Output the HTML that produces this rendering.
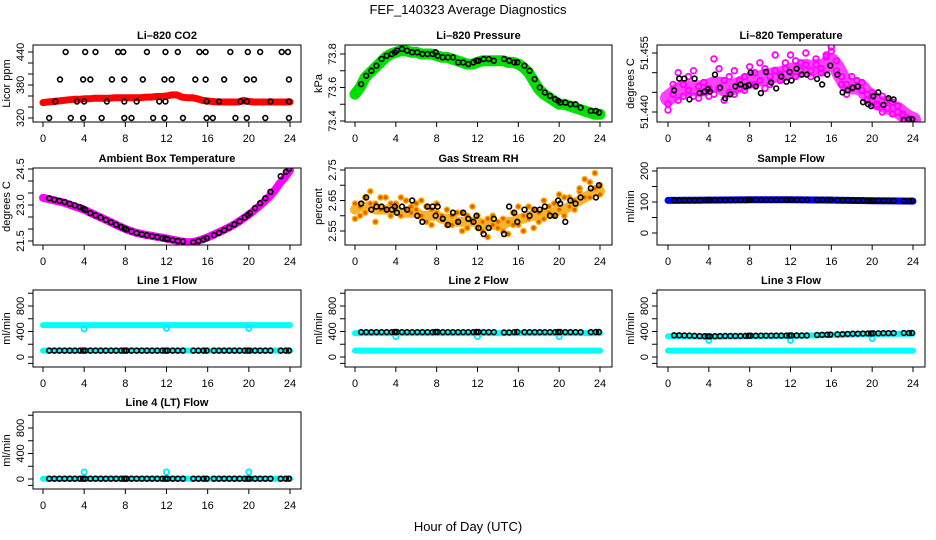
<!DOCTYPE html>
<html><head><meta charset="utf-8"><title>FEF_140323 Average Diagnostics</title>
<style>
html,body{margin:0;padding:0;background:#fff;}
svg{display:block;font-family:"Liberation Sans",sans-serif;}
</style></head>
<body>
<svg id="chart" width="936" height="540" viewBox="0 0 936 540">
<text x="468" y="14" text-anchor="middle" font-size="13">FEF_140323  Average Diagnostics</text>
<text x="468" y="531" text-anchor="middle" font-size="13">Hour of Day (UTC)</text>
</svg>
<script>
// ---------- data ----------
const xTicks = [0,4,8,12,16,20,24];
const bandHours = [0,0.5,1,1.5,2,2.5,3,3.5,4,4.5,5,5.5,6,6.5,7,7.5,8,8.5,9,9.5,10,10.5,11,11.5,12,12.5,13,13.5,14,14.5,15,15.5,16,16.5,17,17.5,18,18.5,19,19.5,20,20.5,21,21.5,22,22.5,23,23.5,24];
const hrs = [0.6,1.1,1.6,2.1,2.6,3.1,3.6,3.9,4.1,4.6,5.1,5.6,6.1,6.6,7.1,7.6,7.9,8.1,8.6,9.1,9.6,10.1,10.6,11.1,11.6,11.9,12.1,12.6,13.1,13.6,14.6,15.1,15.6,15.9,16.6,17.1,17.6,18.1,18.6,19.1,19.6,19.9,20.1,20.6,21.1,21.6,22.1,23.1,23.6,23.9];

const co2Band = [348,349,350,351,352,353,354,354,355,355,356,356,356,356,357,357,357,357,357,357,358,358,359,359,360,362,362,358,357,357,355,352,351,350,349,349,349,349,349,352,350,349,349,349,349,349,349,349,349];
const co2Hours = [2.2,4.1,5.1,7.3,7.8,10.1,11.9,13.1,15.2,15.8,18.2,19.9,21.1,23.2,23.8, 1.65,3.9,4.6,6.7,7.9,9.7,11.8,12.5,14.8,15.8,17.6,19.8,20.5,23.9, 1.2,3.3,4.0,6.2,7.9,9.1,11.3,11.9,15.9,17.1,19.2,19.8,22.1,23.9, 0.6,2.7,3.9,5.7,7.9,8.6,10.7,11.8,13.6,15.9,16.5,18.7,19.8,21.6,23.9];
const co2Vals = [440,440,440,440,440,440,440,440,440,440,440,440,440,440,440, 390,390,390,390,390,390,390,390,390,390,390,390,390,390, 350,350,350,350,350,350,350,350,350,350,350,350,350,350, 320,320,320,320,320,320,320,320,320,320,320,320,320,320,320];

const presBand = [73.56,73.60,73.66,73.69,73.72,73.75,73.78,73.80,73.81,73.82,73.82,73.81,73.81,73.80,73.80,73.80,73.79,73.78,73.78,73.77,73.76,73.75,73.74,73.74,73.75,73.76,73.76,73.76,73.76,73.76,73.75,73.75,73.74,73.72,73.69,73.64,73.59,73.56,73.54,73.52,73.50,73.50,73.49,73.48,73.47,73.46,73.45,73.44,73.44];
const presPts = [73.62,73.67,73.70,73.73,73.77,73.79,73.80,73.81,73.82,73.83,73.82,73.81,73.81,73.80,73.80,73.80,73.81,73.79,73.78,73.78,73.78,73.75,73.75,73.74,73.75,73.76,73.76,73.77,73.77,73.76,73.77,73.76,73.75,73.75,73.73,73.70,73.65,73.60,73.57,73.55,73.53,73.52,73.51,73.51,73.50,73.50,73.48,73.46,73.46,73.45];

const tempTrend = [51.4435,51.4445,51.4455,51.4460,51.4460,51.4460,51.4460,51.4460,51.4465,51.4470,51.4470,51.4460,51.4460,51.4465,51.4470,51.4475,51.4480,51.4485,51.4485,51.4490,51.4490,51.4495,51.4495,51.4500,51.4505,51.4505,51.4510,51.4515,51.4510,51.4515,51.4510,51.4520,51.4530,51.4515,51.4490,51.4470,51.4465,51.4465,51.4460,51.4445,51.4435,51.4425,51.4420,51.4415,51.4410,51.4405,51.4395,51.4385,51.4380];
const tempA = [51.4420,51.4445,51.4430,51.4470,51.4455,51.4440,51.4465,51.4450,51.4460,51.4445,51.4510,51.4480,51.4450,51.4445,51.4460,51.4490,51.4470,51.4500,51.4480,51.4510,51.4470,51.4505,51.4495,51.4525,51.4500,51.4530,51.4505,51.4520,51.4490,51.4535,51.4510,51.4540,51.4555,51.4530,51.4490,51.4470,51.4460,51.4480,51.4455,51.4445,51.4430,51.4420,51.4440,51.4410,51.4425,51.4400,51.4395,51.4385,51.4380];
const tempB = [51.4405,51.4470,51.4500,51.4440,51.4490,51.4505,51.4435,51.4475,51.4440,51.4535,51.4460,51.4430,51.4490,51.4505,51.4480,51.4455,51.4515,51.4470,51.4525,51.4460,51.4490,51.4545,51.4480,51.4510,51.4545,51.4490,51.4525,51.4550,51.4505,51.4520,51.4500,51.4545,51.4565,51.4505,51.4470,51.4445,51.4490,51.4465,51.4475,51.4430,51.4450,51.4415,51.4400,51.4430,51.4395,51.4415,51.4390,51.4380,51.4378];
const tempPts = [51.4455,51.4485,51.4485,51.4432,51.4485,51.4448,51.4452,51.4458,51.4452,51.4495,51.4462,51.4435,51.4445,51.4465,51.4470,51.4465,51.4468,51.4500,51.4465,51.4448,51.4502,51.4475,51.4460,51.4490,51.4477,51.4502,51.4480,51.4510,51.4495,51.4495,51.4484,51.4470,51.4495,51.4518,51.4495,51.4450,51.4455,51.4462,51.4465,51.4425,51.4420,51.4415,51.4440,51.4450,51.4418,51.4435,51.4432,51.4380,51.4381,51.4382];

const ambBand = [23.30,23.25,23.20,23.15,23.10,23.03,22.95,22.88,22.80,22.70,22.60,22.50,22.40,22.30,22.20,22.10,22.00,21.92,21.85,21.80,21.75,21.72,21.68,21.64,21.60,21.56,21.52,21.48,21.45,21.46,21.50,21.57,21.65,21.75,21.85,21.95,22.05,22.17,22.30,22.45,22.60,22.77,22.95,23.15,23.35,23.60,23.90,24.15,24.45];
const ambPts = [23.28,23.22,23.17,23.12,23.05,22.98,22.91,22.85,22.80,22.66,22.57,22.48,22.38,22.28,22.18,22.08,22.02,21.98,21.90,21.83,21.78,21.74,21.70,21.66,21.62,21.60,21.58,21.54,21.50,21.48,21.45,21.50,21.56,21.62,21.74,21.84,21.95,22.06,22.19,22.32,22.48,22.58,22.66,22.87,23.08,23.28,23.55,24.20,24.38,24.50];

const rhA = [2.59,2.63,2.66,2.68,2.64,2.62,2.66,2.60,2.64,2.66,2.62,2.61,2.64,2.60,2.58,2.62,2.61,2.59,2.57,2.60,2.58,2.61,2.56,2.58,2.60,2.55,2.59,2.57,2.56,2.59,2.54,2.61,2.57,2.60,2.63,2.56,2.61,2.59,2.63,2.60,2.62,2.66,2.63,2.65,2.68,2.66,2.71,2.69,2.67];
const rhB = [2.64,2.60,2.61,2.64,2.58,2.66,2.62,2.64,2.63,2.60,2.65,2.63,2.62,2.65,2.63,2.57,2.64,2.60,2.62,2.57,2.61,2.55,2.60,2.63,2.56,2.58,2.53,2.60,2.58,2.55,2.58,2.57,2.63,2.55,2.59,2.62,2.58,2.65,2.61,2.64,2.67,2.60,2.66,2.62,2.69,2.72,2.66,2.74,2.70];
const rhTrend = [2.62,2.63,2.63,2.63,2.62,2.62,2.62,2.62,2.62,2.61,2.61,2.61,2.61,2.60,2.60,2.60,2.60,2.59,2.59,2.59,2.58,2.58,2.58,2.58,2.58,2.57,2.57,2.57,2.57,2.57,2.58,2.58,2.59,2.59,2.60,2.60,2.60,2.61,2.61,2.61,2.62,2.62,2.63,2.64,2.65,2.66,2.67,2.68,2.68];
const rhPts = [2.64,2.66,2.62,2.63,2.63,2.62,2.62,2.63,2.61,2.63,2.62,2.65,2.60,2.58,2.63,2.63,2.60,2.63,2.59,2.57,2.61,2.58,2.61,2.59,2.58,2.60,2.56,2.54,2.56,2.59,2.54,2.63,2.61,2.58,2.62,2.60,2.62,2.62,2.63,2.60,2.60,2.65,2.64,2.58,2.65,2.64,2.66,2.69,2.66,2.70];

const flowKnotHours = [0,4,8,12,16,20,24];
const sampleBand = [105,106,107,107,106,104,103];
const samplePts = [105,105,105,105,105,105,106,107,107,106,106,106,106,106,106,106,107,107,107,107,107,107,107,107,107,107,107,107,107,107,107,107,107,107,106,106,106,105,105,105,104,104,104,104,104,104,104,103,103,104];
const line1Upper = [500,500,500,500,500,500,500];
const line1Lower = [100,100,100,100,100,100,100];
const line1Pts = [100,100,100,100,100,100,100,100,100,100,100,100,100,100,100,100,100,100,100,100,100,100,100,100,100,100,100,100,100,100,100,100,100,100,100,100,100,100,100,100,100,100,100,100,100,100,100,100,100,100];
const line2Upper = [375,375,375,375,375,375,375];
const line2Lower = [100,100,100,100,100,100,100];
const line2Pts = [390,390,390,390,390,390,390,392,392,390,390,390,390,390,390,390,392,392,390,390,390,390,390,390,390,392,392,390,390,390,385,385,390,392,390,390,390,390,390,390,390,392,392,390,390,390,390,390,392,392];
const line3Upper = [325,320,325,330,345,360,365];
const line3Lower = [100,100,100,100,100,100,100];
const line3Pts = [340,340,338,336,332,328,326,325,324,326,328,330,330,330,330,332,334,334,334,335,335,335,336,336,337,338,338,338,338,338,345,348,350,352,355,358,362,365,366,368,370,370,372,372,374,374,375,376,376,377];
const line4Band = [5,5,5,5,5,5,5];
const line4Pts = [5,5,5,5,5,5,5,5,5,5,5,5,5,5,5,5,5,5,5,5,5,5,5,5,5,5,5,5,5,5,5,5,5,5,5,5,5,5,5,5,5,5,5,5,5,5,5,5,5,5];
const dipHours = [4,12,20];
const line1Dips = [440,450,450];
const line2Dips = [320,320,320];
const line3Dips = [260,260,290];
const line4Dips = [110,110,110];

// ---------- layout ----------
const BOX_L=[33,345,657], BOX_R=[301,612,925];
const BOX_T=[45,168,290,412], BOX_B=[122,245,367,489];
const X0=[43,355,668], X24=[290,600,913];
const NS='http://www.w3.org/2000/svg';
const svg=document.getElementById('chart');
function el(tag, attrs, parent){
  const e=document.createElementNS(NS,tag);
  for(const k in attrs) e.setAttribute(k,attrs[k]);
  (parent||svg).appendChild(e);
  return e;
}
function xScale(col,h){ return X0[col]+h*(X24[col]-X0[col])/24; }
function yLin(vA,yA,vB,yB){ return v=>yA+(v-vA)*(yB-yA)/(vB-vA); }

let clipId=0;
function panel(opts){
  const c=opts.col, r=opts.row;
  const L=BOX_L[c], R=BOX_R[c], T=BOX_T[r], B=BOX_B[r];
  const g=el('g',{});
  
  
  const t=el('text',{x:(L+R)/2,y:T-6,'text-anchor':'middle','font-size':'11','font-weight':'bold'},g);
  t.textContent=opts.title;
  
  
  const id='clip'+(clipId++);
  const cp=el('clipPath',{id:id},g);
  el('rect',{x:L,y:T,width:R-L,height:B-T},cp);
  const plot=el('g',{'clip-path':'url(#'+id+')'},g);
  
  
  const box=el('rect',{x:L,y:T,width:R-L,height:B-T,fill:'none',stroke:'#000','stroke-width':1},g);
  
  
  xTicks.forEach(v=>{
    const x=xScale(c,v);
    const tk=el('line',{x1:x,x2:x,y1:B,y2:B+5,stroke:'#000'},g);
    
    
    const lb=el('text',{x:x,y:B+20,'text-anchor':'middle','font-size':'11'},g);
    lb.textContent=v;
    
    
  });
  const ys=opts.y;
  opts.yTicks.forEach(v=>{
    const y=ys(v);
    const tk=el('line',{x1:L-5,x2:L,y1:y,y2:y,stroke:'#000'},g);
    
    
  });
  opts.yLabels.forEach((v,i)=>{
    const y=ys(v);
    const lb=el('text',{x:0,y:0,'text-anchor':'middle','font-size':'11',transform:'translate('+(L-9)+','+y+') rotate(-90)'},g);
    lb.textContent=opts.yLabelText[i];
    
    
  });
  const yt=el('text',{x:0,y:0,'text-anchor':'middle','font-size':'11',transform:'translate('+(L-23)+','+((T+B)/2)+') rotate(-90)'},g);
  yt.textContent=opts.ylab;
  
  
  return {plot:plot,col:c,y:ys};
}
function band(p,hours,vals,color,w,name,op){
  const pts=hours.map((h,i)=>xScale(p.col,h).toFixed(1)+','+p.y(vals[i]).toFixed(1)).join(' ');
  const e=el('polyline',{points:pts,fill:'none',stroke:color,'stroke-width':w,'stroke-linejoin':'round','stroke-linecap':'round','stroke-opacity':op||1},p.plot);
  
  
}
function points(p,hours,vals,color,fill,rad,sw,name){
  hours.forEach((h,i)=>{
    const e=el('circle',{cx:xScale(p.col,h),cy:p.y(vals[i]),r:rad,fill:fill,stroke:color,'stroke-width':sw},p.plot);
    
    
  });
}
const flowY = r => yLin(0,BOX_B[r]-10,800,BOX_B[r]-61);
const flowTicks=[-100,0,200,400,600,800,1000];

let p=panel({col:0,row:0,name:'li820-co2-panel',title:'Li\u2013820 CO2',ylab:'Licor ppm',y:yLin(320,118,440,52),yTicks:[320,340,360,380,400,420,440],yLabels:[320,380,440],yLabelText:['320','380','440']});
band(p,bandHours,co2Band,'#ff0000',7,'co2-band');
points(p,co2Hours,co2Vals,'#000','none',2.4,1.6,'co2-point');

p=panel({col:1,row:0,name:'li820-pressure-panel',title:'Li\u2013820 Pressure',ylab:'kPa',y:yLin(73.4,121,73.8,54),yTicks:[73.4,73.5,73.6,73.7,73.8],yLabels:[73.4,73.6,73.8],yLabelText:['73.4','73.6','73.8']});
band(p,bandHours,presBand,'#00e000',11,'pressure-band');
points(p,hrs,presPts,'#000','none',2.4,1.6,'pressure-point');

p=panel({col:2,row:0,name:'li820-temperature-panel',title:'Li\u2013820 Temperature',ylab:'degrees C',y:yLin(51.440,112,51.455,53),yTicks:[51.440,51.445,51.450,51.455],yLabels:[51.440,51.455],yLabelText:['51.440','51.455']});
band(p,bandHours,tempTrend,'#ff00ff',16,'temperature-band',0.75);
points(p,bandHours,tempA,'#ff00ff','none',2.8,1.8,'temperature-point-a');
points(p,bandHours,tempB,'#ff00ff','none',2.8,1.8,'temperature-point-b');
points(p,hrs,tempPts,'#000','none',2.4,1.6,'temperature-point');

p=panel({col:0,row:1,name:'ambient-box-temperature-panel',title:'Ambient Box Temperature',ylab:'degrees C',y:yLin(21.5,241,24.5,169),yTicks:[21.5,22.0,22.5,23.0,23.5,24.0,24.5],yLabels:[21.5,23.0,24.5],yLabelText:['21.5','23.0','24.5']});
band(p,bandHours,ambBand,'#ff00ff',8,'ambient-band');
points(p,hrs,ambPts,'#000','none',2.4,1.6,'ambient-point');

p=panel({col:1,row:1,name:'gas-stream-rh-panel',title:'Gas Stream RH',ylab:'percent',y:yLin(2.55,231,2.75,170),yTicks:[2.55,2.60,2.65,2.70,2.75],yLabels:[2.55,2.65,2.75],yLabelText:['2.55','2.65','2.75']});
band(p,bandHours,rhTrend,'#f0a000',10,'rh-band',0.8);
points(p,bandHours,rhA,'#ffb000','#e06000',2.6,1.4,'rh-point-a');
points(p,bandHours,rhB,'#ffb000','#e06000',2.6,1.4,'rh-point-b');
points(p,hrs,rhPts,'#000','none',2.4,1.6,'rh-point');

p=panel({col:2,row:1,name:'sample-flow-panel',title:'Sample Flow',ylab:'ml/min',y:yLin(0,233,200,171),yTicks:[0,50,100,150,200],yLabels:[0,100,200],yLabelText:['0','100','200']});
band(p,flowKnotHours,sampleBand,'#0000ff',7,'sample-flow-band');
points(p,hrs,samplePts,'#000','none',2.4,1.6,'sample-flow-point');

function flowPanel(col,row,name,title,bands,pts,dips){
  const q=panel({col:col,row:row,name:name,title:title,ylab:'ml/min',y:flowY(row),yTicks:flowTicks,yLabels:[0,400,800],yLabelText:['0','400','800']});
  bands.forEach((b,i)=>band(q,flowKnotHours,b,'#00ffff',6,name+'-cyan-band-'+i));
  points(q,dipHours,dips,'#00e8ff','none',2.6,1.8,name+'-cyan-point');
  points(q,hrs,pts,'#000','none',2.4,1.6,name+'-point');
}
flowPanel(0,2,'line1-flow-panel','Line 1 Flow',[line1Upper,line1Lower],line1Pts,line1Dips);
flowPanel(1,2,'line2-flow-panel','Line 2 Flow',[line2Upper,line2Lower],line2Pts,line2Dips);
flowPanel(2,2,'line3-flow-panel','Line 3 Flow',[line3Upper,line3Lower],line3Pts,line3Dips);
flowPanel(0,3,'line4-flow-panel','Line 4 (LT) Flow',[line4Band],line4Pts,line4Dips);
</script>
</body></html>
